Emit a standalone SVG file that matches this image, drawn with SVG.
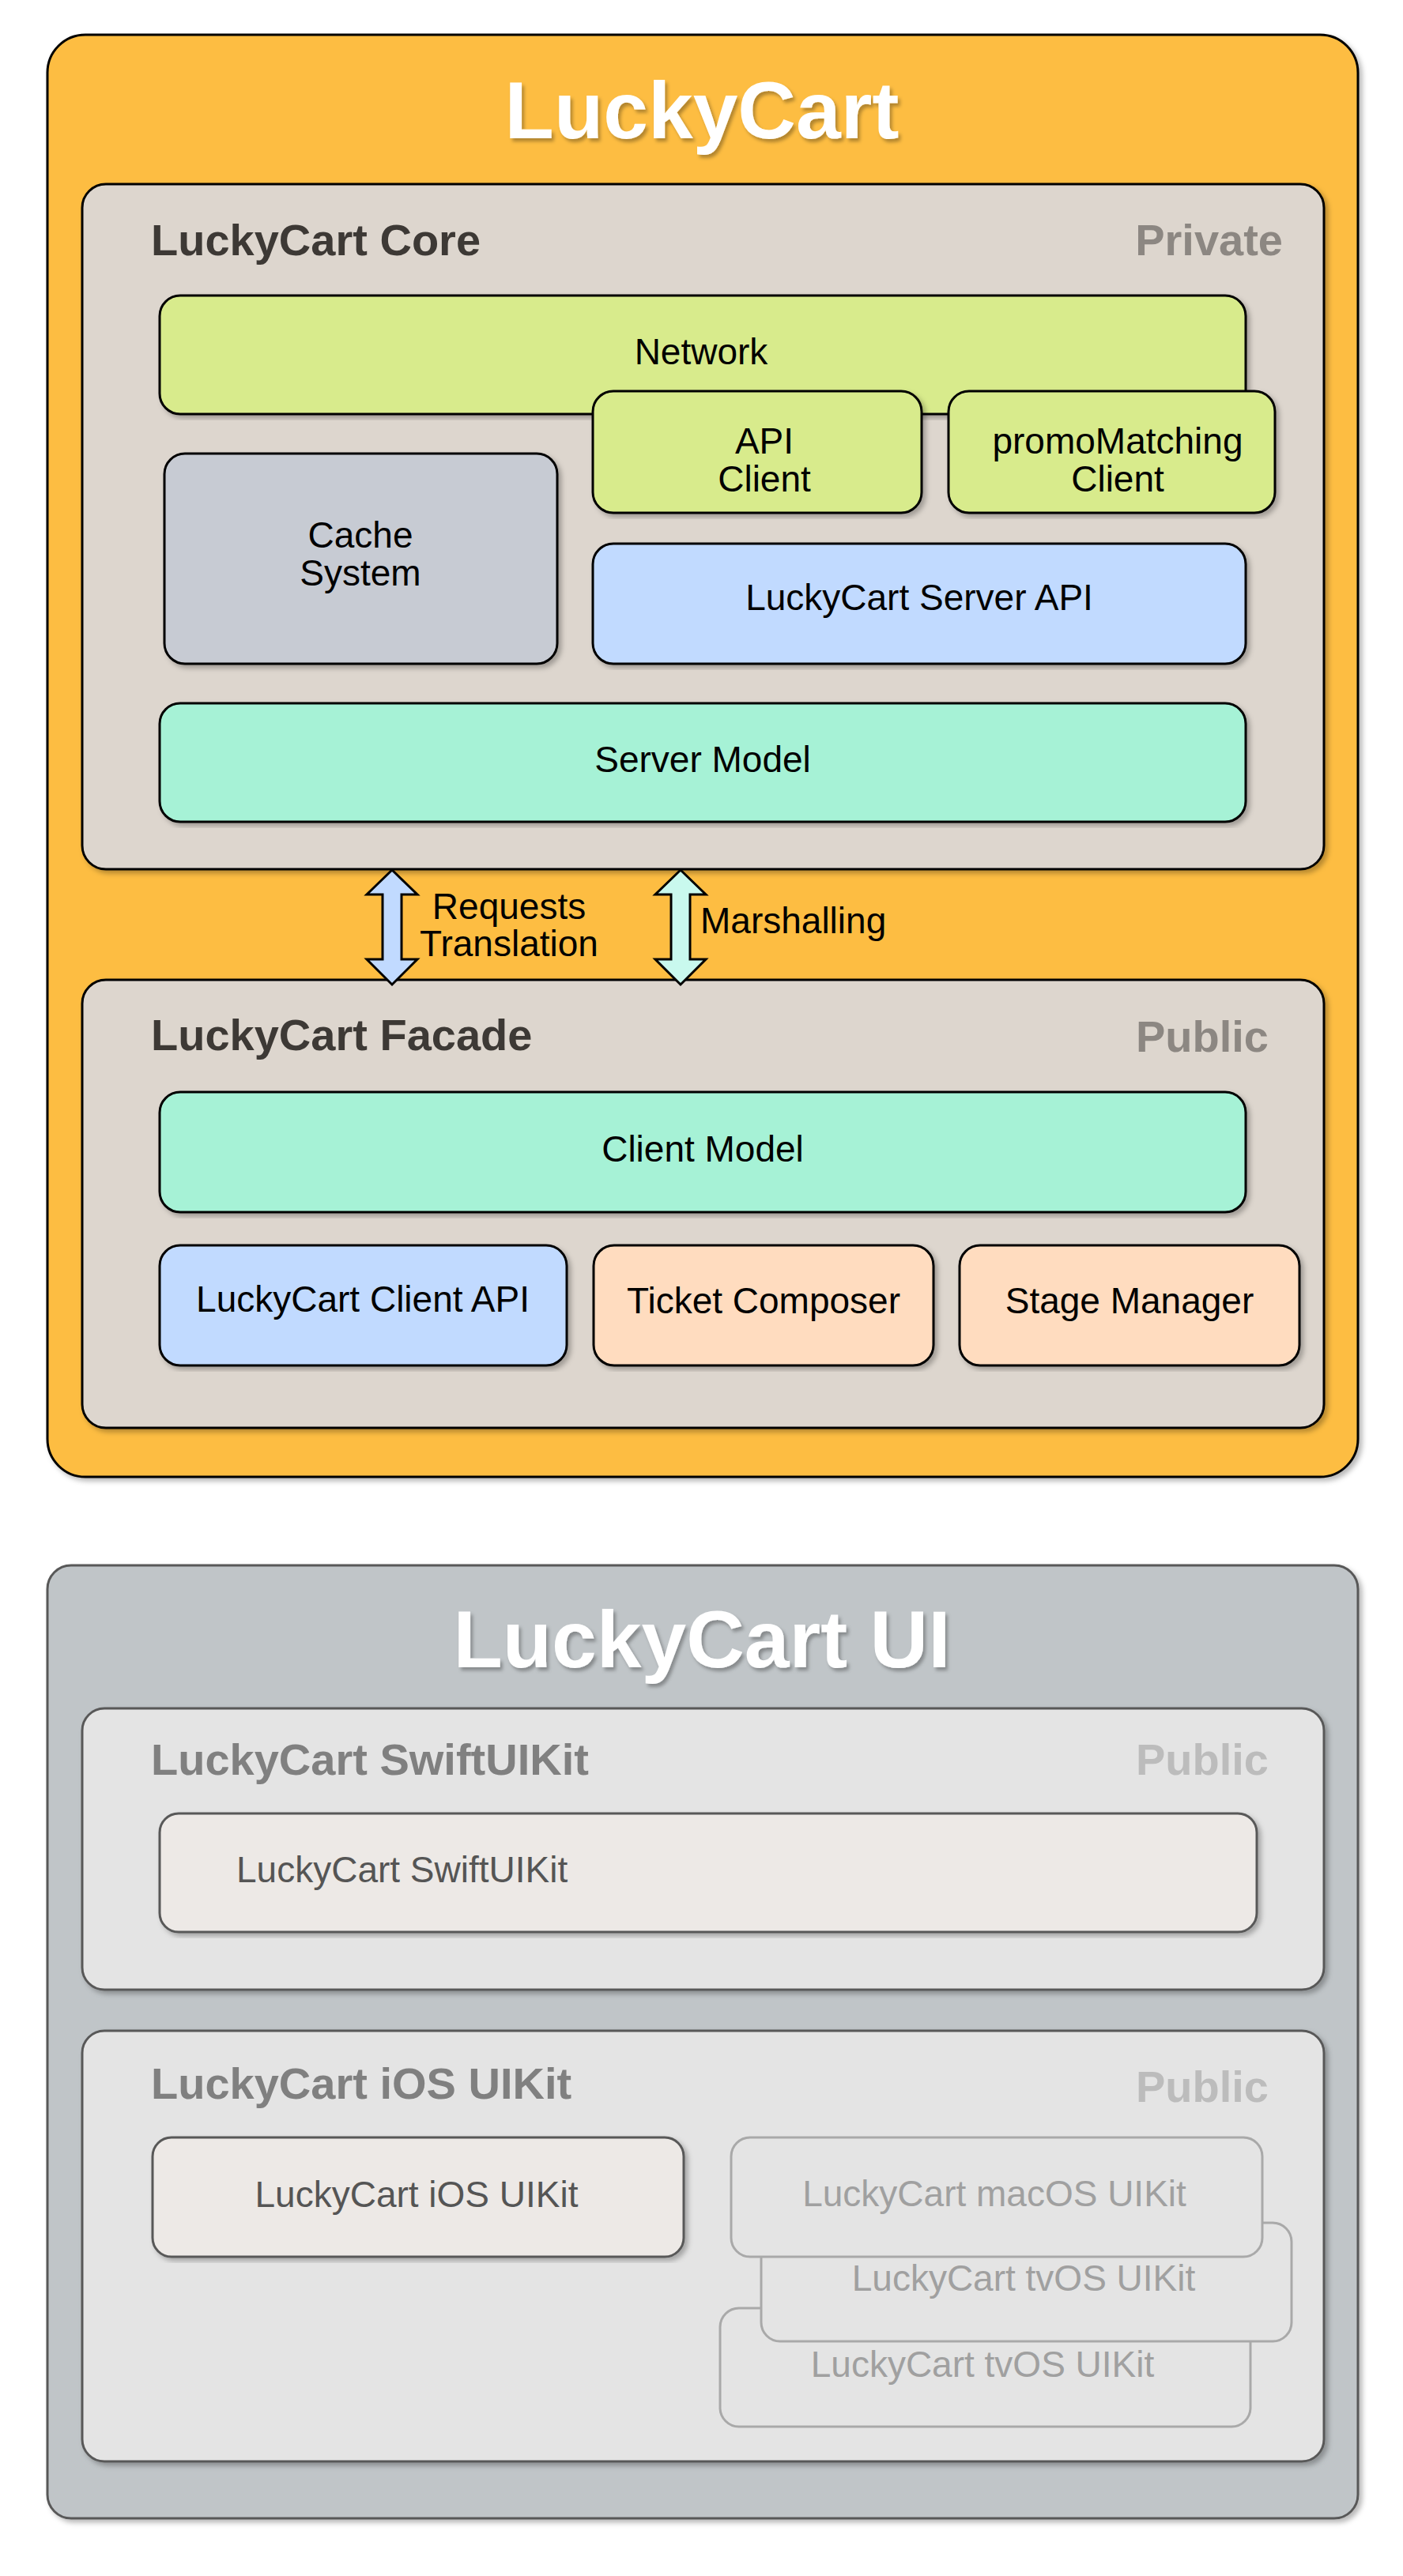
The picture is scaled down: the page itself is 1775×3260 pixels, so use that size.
<svg xmlns="http://www.w3.org/2000/svg" width="1775" height="3260" viewBox="0 0 1775 3260">
<defs>
<filter id="sh" x="-5%" y="-5%" width="110%" height="110%">
<feDropShadow dx="4" dy="4" stdDeviation="3" flood-color="#000" flood-opacity="0.28"/>
</filter>
<filter id="tsh" x="-5%" y="-10%" width="110%" height="130%">
<feDropShadow dx="3" dy="4" stdDeviation="2" flood-color="#000" flood-opacity="0.3"/>
</filter>
<style>
text{font-family:"Liberation Sans",Arial,Helvetica,sans-serif}
.node{stroke:#000;stroke-width:3}
.t{font-size:46px;fill:#000;text-anchor:middle}
.title{font-size:102px;font-weight:bold;fill:#fff;text-anchor:middle}
.glab{font-size:56px;font-weight:bold;fill:#3d3935}
.gpriv{font-size:56px;font-weight:bold;fill:#8c8782;text-anchor:end}
.ulab{font-size:56px;font-weight:bold;fill:#808080}
.upub{font-size:56px;font-weight:bold;fill:#bcbcbc;text-anchor:end}
.ubox{stroke:#595959;stroke-width:3}
.lbox{fill:#e4e4e4;stroke:#a9a9a9;stroke-width:3}
.lt{font-size:46px;fill:#a0a0a0;text-anchor:middle}
.green{fill:#d8eb8c}
.blue{fill:#c1daff}
.mint{fill:#a6f2d6}
.peach{fill:#ffdcbf}
.cache{fill:#c7cbd3}
.arrow{stroke:#000;stroke-width:3;stroke-linejoin:miter}
</style>
</defs>
<rect width="1775" height="3260" fill="#fff"/>

<g id="luckycart">
<rect x="60" y="44" width="1658" height="1825" rx="48" fill="#fdbd43" stroke="#000" stroke-width="3" filter="url(#sh)"/>
<text class="title" x="888" y="175" filter="url(#tsh)">LuckyCart</text>
</g>

<g id="core">
<rect x="104" y="233" width="1571" height="867" rx="30" fill="#ddd6ce" stroke="#000" stroke-width="3" filter="url(#sh)"/>
<text class="glab" x="191" y="323">LuckyCart Core</text>
<text class="gpriv" x="1623" y="323">Private</text>
</g>

<g id="network">
<rect class="node green" x="202" y="374" width="1374" height="150" rx="26" filter="url(#sh)"/>
<text class="t" x="887" y="461">Network</text>
</g>

<g id="api-client">
<rect class="node green" x="750" y="495" width="416" height="154" rx="26" filter="url(#sh)"/>
<text class="t" x="967" y="574">API</text>
<text class="t" x="967" y="622">Client</text>
</g>

<g id="promo-client">
<rect class="node green" x="1200" y="495" width="413" height="154" rx="26" filter="url(#sh)"/>
<text class="t" x="1414" y="574">promoMatching</text>
<text class="t" x="1414" y="622">Client</text>
</g>

<g id="cache-system">
<rect class="node cache" x="208" y="574" width="497" height="266" rx="26" filter="url(#sh)"/>
<text class="t" x="456" y="693">Cache</text>
<text class="t" x="456" y="741">System</text>
</g>

<g id="server-api">
<rect class="node blue" x="750" y="688" width="826" height="152" rx="26" filter="url(#sh)"/>
<text class="t" x="1163" y="772">LuckyCart Server API</text>
</g>

<g id="server-model">
<rect class="node mint" x="202" y="890" width="1374" height="150" rx="26" filter="url(#sh)"/>
<text class="t" x="889" y="977">Server Model</text>
</g>

<g id="facade">
<rect x="104" y="1240" width="1571" height="567" rx="30" fill="#ddd6ce" stroke="#000" stroke-width="3" filter="url(#sh)"/>
<text class="glab" x="191" y="1329">LuckyCart Facade</text>
<text class="gpriv" x="1605" y="1331">Public</text>
</g>

<g id="client-model">
<rect class="node mint" x="202" y="1382" width="1374" height="152" rx="26" filter="url(#sh)"/>
<text class="t" x="889" y="1470">Client Model</text>
</g>

<g id="client-api">
<rect class="node blue" x="202" y="1576" width="515" height="152" rx="26" filter="url(#sh)"/>
<text class="t" x="459" y="1660">LuckyCart Client API</text>
</g>

<g id="ticket-composer">
<rect class="node peach" x="751" y="1576" width="430" height="152" rx="26" filter="url(#sh)"/>
<text class="t" x="966" y="1662">Ticket Composer</text>
</g>

<g id="stage-manager">
<rect class="node peach" x="1214" y="1576" width="430" height="152" rx="26" filter="url(#sh)"/>
<text class="t" x="1429" y="1662">Stage Manager</text>
</g>

<g id="connectors">
<polygon class="arrow" fill="#c1daff" points="496,1101 528,1132 508,1132 508,1214 528,1214 496,1246 464,1214 484,1214 484,1132 464,1132"/>
<polygon class="arrow" fill="#c9f9ee" points="861,1101 893,1132 873,1132 873,1214 893,1214 861,1246 829,1214 849,1214 849,1132 829,1132"/>
<text class="t" x="644" y="1163">Requests</text>
<text class="t" x="644" y="1210">Translation</text>
<text class="t" x="886" y="1181" style="text-anchor:start">Marshalling</text>
</g>

<g id="luckycart-ui">
<rect class="ubox" x="60" y="1981" width="1658" height="1206" rx="30" fill="#c0c5c8" filter="url(#sh)"/>
<text class="title" x="888" y="2110" filter="url(#tsh)">LuckyCart UI</text>
</g>

<g id="swiftuikit-group">
<rect class="ubox" x="104" y="2162" width="1571" height="356" rx="28" fill="#e4e4e4" filter="url(#sh)"/>
<text class="ulab" x="191" y="2246">LuckyCart SwiftUIKit</text>
<text class="upub" x="1605" y="2246">Public</text>
</g>

<g id="swiftuikit">
<rect class="ubox" x="202" y="2295" width="1388" height="150" rx="24" fill="#ede9e6" filter="url(#sh)"/>
<text x="299" y="2382" style="font-size:46px;fill:#555">LuckyCart SwiftUIKit</text>
</g>

<g id="ios-uikit-group">
<rect class="ubox" x="104" y="2570" width="1571" height="545" rx="28" fill="#e4e4e4" filter="url(#sh)"/>
<text class="ulab" x="191" y="2656">LuckyCart iOS UIKit</text>
<text class="upub" x="1605" y="2660">Public</text>
</g>

<g id="ios-uikit">
<rect class="ubox" x="193" y="2705" width="672" height="151" rx="24" fill="#ede9e6" filter="url(#sh)"/>
<text x="527" y="2793" style="font-size:46px;fill:#555;text-anchor:middle">LuckyCart iOS UIKit</text>
</g>

<g id="tvos-uikit-2">
<rect class="lbox" x="911" y="2921" width="671" height="150" rx="24"/>
<text class="lt" x="1243" y="3008">LuckyCart tvOS UIKit</text>
</g>

<g id="tvos-uikit-1">
<rect class="lbox" x="963" y="2813" width="671" height="150" rx="24"/>
<text class="lt" x="1295" y="2899">LuckyCart tvOS UIKit</text>
</g>

<g id="macos-uikit">
<rect class="lbox" x="925" y="2705" width="672" height="151" rx="24"/>
<text class="lt" x="1258" y="2792">LuckyCart macOS UIKit</text>
</g>
</svg>
